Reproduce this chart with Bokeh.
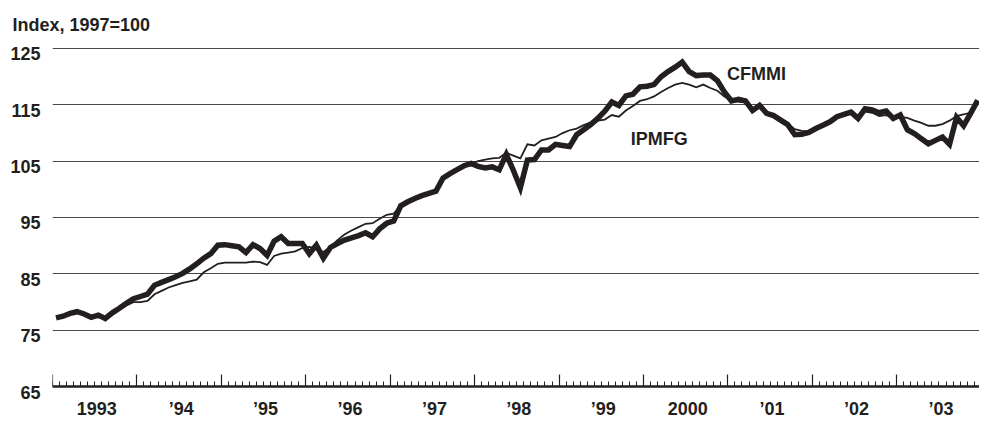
from bokeh.plotting import figure
from bokeh.models import (Range1d, FixedTicker, LinearAxis, Label, LabelSet,
                          ColumnDataSource, CustomLabelingPolicy)
from bokeh.core.properties import value
from bokeh.embed import file_html
from bokeh.resources import INLINE

start_year = 1993
# Monthly index values, Jan 1993 - Dec 2003 (1997=100)
cfmmi = [
    77.2, 77.5, 78.0, 78.3, 77.9, 77.3, 77.7, 77.1, 78.1, 78.9, 79.8, 80.6,
    81.0, 81.4, 83.0, 83.5, 84.0, 84.5, 85.1, 85.9, 86.8, 87.8, 88.6, 90.1,
    90.2, 90.0, 89.8, 88.8, 90.2, 89.5, 88.3, 90.8, 91.6, 90.4, 90.4, 90.4,
    88.6, 90.1, 87.8, 89.7, 90.4, 91.0, 91.4, 91.8, 92.3, 91.6, 93.0, 94.0,
    94.4, 97.1, 97.8, 98.4, 98.9, 99.3, 99.7, 102.0, 102.8, 103.5, 104.2, 104.6,
    104.1, 103.8, 104.0, 103.5, 106.2, 103.4, 100.3, 105.2, 105.3, 107.0, 107.0, 108.0,
    107.8, 107.6, 109.7, 110.6, 111.5, 112.6, 113.9, 115.5, 114.9, 116.6, 116.9, 118.2,
    118.3, 118.6, 120.0, 120.9, 121.7, 122.6, 120.9, 120.2, 120.3, 120.3, 119.3, 117.3,
    115.7, 116.0, 115.7, 114.0, 114.9, 113.5, 113.1, 112.3, 111.5, 109.7, 109.8, 110.1,
    110.8, 111.4, 112.0, 112.9, 113.3, 113.7, 112.6, 114.3, 114.1, 113.6, 113.9, 112.6,
    113.2, 110.6, 109.9, 109.0, 108.1, 108.7, 109.3, 108.0, 112.8, 111.3, 113.5, 115.8,
]
ipmfg = [
    77.3, 77.5, 77.9, 78.2, 77.9, 77.4, 77.7, 77.2, 77.9, 78.7, 79.4, 80.0,
    80.0, 80.2, 81.4, 82.0, 82.6, 83.0, 83.4, 83.7, 84.0, 85.3, 86.0, 86.8,
    87.0, 87.0, 87.0, 87.0, 87.2, 87.1, 86.6, 88.2, 88.6, 88.8, 89.0, 89.6,
    89.8, 89.5, 88.9, 89.8, 91.0, 92.0, 92.7, 93.3, 93.9, 94.0, 94.8, 95.5,
    95.7, 97.2, 97.8, 98.4, 98.9, 99.3, 99.8, 102.0, 102.8, 103.5, 104.2, 104.6,
    105.0, 105.3, 105.5, 105.6, 106.5, 106.0, 105.5, 108.0, 107.8, 108.7, 109.0, 109.3,
    110.0, 110.5, 110.8, 111.4, 111.9, 112.2, 112.4, 113.2, 112.9, 114.0, 114.8, 115.7,
    116.0, 116.5, 117.3, 118.0, 118.6, 118.9, 118.6, 118.1, 118.6, 118.0, 117.5, 116.5,
    115.7, 115.6, 115.4, 114.3, 114.6, 113.6, 113.0, 112.4, 111.7, 110.7, 110.4, 110.3,
    110.8, 111.3, 112.1, 112.7, 113.1, 113.5, 112.9, 113.8, 113.6, 113.0, 113.2, 112.6,
    112.9, 112.7, 112.2, 111.8, 111.3, 111.3, 111.6, 112.2, 113.0, 113.3, 113.6, 115.7,
]
years = list(range(1993, 2004))
year_labels = ["1993", "\u201994", "\u201995", "\u201996", "\u201997", "\u201998",
               "\u201999", "2000", "\u201901", "\u201902", "\u201903"]
y_ticks = [65, 75, 85, 95, 105, 115, 125]

INK = "#231f20"
FONT = "Liberation Sans"
FS = "18px"

x = [start_year + (i + 0.5) / 12 for i in range(len(cfmmi))]
x0, x1 = 1993.0, 2003.98
base = 65                 # value where the time axis sits
y0, y1 = 59.53, 125.18    # extra room below the base for the year labels

p = figure(width=979, height=419, output_backend="svg", toolbar_location=None,
           x_range=Range1d(x0, x1), y_range=Range1d(y0, y1),
           x_axis_location=None, min_border_left=52, min_border_right=0,
           min_border_top=45, min_border_bottom=2)
p.outline_line_color = None
p.background_fill_color = "white"
p.border_fill_color = "white"

# grid
p.xgrid.visible = False
p.ygrid.ticker = FixedTicker(ticks=y_ticks)
p.ygrid.grid_line_color = "#4a4a4a"
p.ygrid.grid_line_width = 1.2

# y axis: labels hang just below their grid lines
lab_shift = 0.95
shifted = [t - lab_shift for t in y_ticks]
yax = p.yaxis[0]
yax.ticker = FixedTicker(ticks=shifted)
yax.major_label_overrides = {s: str(t) for s, t in zip(shifted, y_ticks)}
yax.axis_line_color = None
yax.major_tick_line_color = None
yax.minor_tick_line_color = None
yax.major_tick_in = 0
yax.major_tick_out = 0
yax.major_label_standoff = 12
yax.major_label_text_font = FONT
yax.major_label_text_font_size = FS
yax.major_label_text_font_style = "bold"
yax.major_label_text_color = INK

# time axis at 65: baseline with year and month ticks pointing up
months = [start_year + k / 12 for k in range(12 * len(years))]
xax = LinearAxis(ticker=FixedTicker(ticks=years, minor_ticks=months),
                 fixed_location=base)
xax.axis_line_width = 2.6
xax.axis_line_color = INK
xax.major_tick_in = 12
xax.major_tick_out = 0
xax.major_tick_line_color = INK
xax.major_tick_line_width = 1.2
xax.minor_tick_in = 5
xax.minor_tick_out = 0
xax.minor_tick_line_color = INK
xax.minor_tick_line_width = 1
xax.major_label_text_font_size = "1px"
xax.major_label_standoff = 0
xax.major_label_policy = CustomLabelingPolicy(
    code="for (const i of indices) { indices.unset(i) }\nreturn indices")
p.add_layout(xax, "below")

# year labels centred in each year, below the baseline
xlab_drop = 3.88
xsrc = ColumnDataSource(dict(x=[yr + 0.5 for yr in years],
                             y=[base - xlab_drop] * len(years),
                             text=year_labels))
p.add_layout(LabelSet(x="x", y="y", text="text", source=xsrc, x_offset=2,
                      text_align="center", text_baseline="middle",
                      text_font=value(FONT), text_font_size=value(FS),
                      text_font_style="bold", text_color=INK))

# series
p.line(x, cfmmi, line_width=5.5, line_color=INK, line_join="miter")
p.line(x, ipmfg, line_width=1.8, line_color=INK, line_join="miter")

# series labels
p.add_layout(Label(x=2000.99, y=120.55, text="CFMMI", text_font=FONT,
                   text_font_size=FS, text_font_style="bold", text_color=INK,
                   text_baseline="alphabetic", text_align="left"))
p.add_layout(Label(x=1999.85, y=108.93, text="IPMFG", text_font=FONT,
                   text_font_size=FS, text_font_style="bold", text_color=INK,
                   text_baseline="alphabetic", text_align="left"))

# title
p.title.text = "Index, 1997=100"
p.title.align = "left"
p.title.offset = -40
p.title.text_font = FONT
p.title.text_font_size = FS
p.title.text_font_style = "bold"
p.title.text_color = INK
p.title.standoff = 25

open("out.html", "w").write(file_html(p, INLINE))
